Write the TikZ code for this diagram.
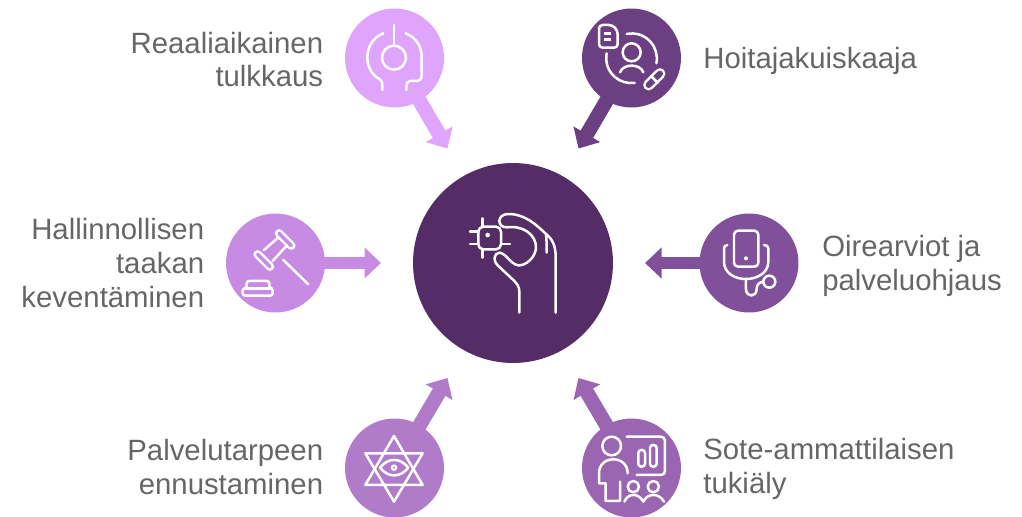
\documentclass[tikz,border=0pt]{standalone}
\usepackage{fontspec}
\setmainfont{Liberation Sans}
\usetikzlibrary{arrows.meta}

\definecolor{hubcol}{HTML}{542C66}
\definecolor{tlcol}{HTML}{DFA5FD}
\definecolor{trcol}{HTML}{6C3F82}
\definecolor{lcol}{HTML}{C88BE3}
\definecolor{rcol}{HTML}{80519A}
\definecolor{blcol}{HTML}{B07BC9}
\definecolor{brcol}{HTML}{9A66B2}
\definecolor{txtcol}{HTML}{666666}

\begin{document}
\begin{tikzpicture}[x=0.02cm,y=-0.02cm]
	\tikzstyle{hub} = [circle, inner sep=0, minimum size=4cm]
	\tikzstyle{topic} = [circle, inner sep=0, minimum size=1.98cm]
	\tikzstyle{big_arrow} = [line width=0.26cm, -{Triangle[length=0.33cm,width=0.6cm]}, shorten <=-0.04cm]
	\tikzstyle{diag_arrow} = [big_arrow, line width=0.29cm]
	\tikzstyle{lab_l} = [align=right, anchor=east, inner sep=0, text=txtcol, font=\fontsize{16.7}{19.3}\selectfont]
	\tikzstyle{lab_r} = [align=left, anchor=west, inner sep=0, text=txtcol, font=\fontsize{16.7}{19.3}\selectfont]
	\tikzstyle{icon} = [x=0.02cm/3, y=-0.02cm/3, white, line width=0.05cm, line cap=round, line join=round]
	\useasboundingbox (0,0) rectangle (1022,517);

	% Circles
	\node[hub, fill=hubcol] (hub) at (513,263) {};
	\node[topic, fill=tlcol] (tulkkaus) at (394.5,58) {};
	\node[topic, fill=trcol] (hoitaja) at (631.5,58) {};
	\node[topic, fill=lcol] (taakka) at (275.5,263) {};
	\node[topic, fill=rcol] (oire) at (749,263) {};
	\node[topic, fill=blcol] (ennuste) at (394.5,468) {};
	\node[topic, fill=brcol] (tukialy) at (631.5,468) {};

	% Arrow ends
	\coordinate (tulkkaus_end) at (447.5,148.5);
	\coordinate (hoitaja_end) at (578.5,148.5);
	\coordinate (taakka_end) at (381,263);
	\coordinate (oire_end) at (645,263);
	\coordinate (ennuste_end) at (447.5,378);
	\coordinate (tukialy_end) at (578.5,378);

	% Draw arrows
	\draw [diag_arrow, tlcol] (tulkkaus) -- (tulkkaus_end);
	\draw [diag_arrow, trcol] (hoitaja) -- (hoitaja_end);
	\draw [big_arrow, lcol] (taakka) -- (taakka_end);
	\draw [big_arrow, rcol] (oire) -- (oire_end);
	\draw [diag_arrow, blcol] (ennuste) -- (ennuste_end);
	\draw [diag_arrow, brcol] (tukialy) -- (tukialy_end);

	% Labels
	\node[lab_l] (tulkkaus_lab) at (323.5,59.5) {Reaaliaikainen\\tulkkaus};
	\node[lab_r] (hoitaja_lab) at (703,61) {Hoitajakuiskaaja};
	\node[lab_l] (taakka_lab) at (204.5,263) {Hallinnollisen\\taakan\\keventäminen};
	\node[lab_r] (oire_lab) at (822,265.5) {Oirearviot ja\\palveluohjaus};
	\node[lab_l] (ennuste_lab) at (323.5,467) {Palvelutarpeen\\ennustaminen};
	\node[lab_r] (tukialy_lab) at (703,469) {Sote-ammattilaisen\\tukiäly};

	% Hub icon
	\begin{scope}[shift={(440,190)}, icon]
		\draw[rounded corners=0.1cm] (115,110) rectangle (183,178);
		\fill (143,135) circle (7);
		\draw (128,85) -- (128,110) (90,125) -- (115,125) (90,162) -- (115,162) (128,178) -- (128,203) (183,162) -- (210,162);
		\draw (347,368) -- (347,200) .. controls (347,165) and (335,145) .. (318,132) .. controls (290,105) and (255,72) .. (205,72) .. controls (170,72) and (170,112) .. (200,112) .. controls (250,105) and (290,135) .. (288,175) .. controls (285,205) and (255,228) .. (235,226) .. controls (210,222) and (200,190) .. (178,188) .. controls (160,190) and (160,215) .. (172,225) -- (220,270) .. controls (232,282) and (238,290) .. (238,305) -- (238,368);
		\draw (320,188) .. controls (320,165) and (320,150) .. (318,132);
	\end{scope}

	% Top left icon
	\begin{scope}[shift={(340,0)}, icon]
		\draw (162,75) -- (162,138);
		\draw (162,173) circle (36);
		\draw (130,100) .. controls (100,112) and (82,140) .. (82,172) .. controls (82,205) and (100,228) .. (120,238) .. controls (126,241) and (127,245) .. (127,270);
		\draw (197,100) .. controls (228,112) and (245,140) .. (245,170) -- (245,225) .. controls (245,240) and (238,243) .. (225,243) -- (210,243) .. controls (202,243) and (199,248) .. (199,270);
	\end{scope}

	% Top right icon
	\begin{scope}[shift={(565,0)}, icon]
		\draw[rounded corners=0.07cm] (102,75) -- (142,75) -- (158,92) -- (158,143) -- (102,143) -- cycle;
		\draw[line width=0.07cm, line cap=butt] (118,100) -- (138,100) (118,118) -- (138,118);
		\draw (200,157) circle (27);
		\draw (165,217) .. controls (175,190) and (225,190) .. (235,217);
		\draw (185,102) arc[radius=0.5cm, start angle=102, end angle=-11];
		\draw (125,160) arc[radius=0.5cm, start angle=169, end angle=278];
		\draw[line width=0.22cm] (251,255) -- (285,221);
		\draw[trcol, line width=0.12cm] (251,255) -- (285,221);
		\draw (258,228) -- (278,248);
	\end{scope}

	% Left icon
	\begin{scope}[shift={(220,205)}, icon]
		\draw (190,165) -- (265,238);
		\draw (132,135) -- (178,95) (158,168) -- (200,122);
		\draw[line width=0.17cm] (113,148) -- (150,185) (177,85) -- (214,122);
		\draw[lcol, line width=0.07cm] (113,148) -- (150,185) (177,85) -- (214,122);
		\draw[rounded corners=0.05cm] (68,272) -- (68,250) -- (80,250) -- (80,228) -- (148,228) -- (148,250) -- (158,250) -- (158,272) -- cycle;
		\draw (80,250) -- (148,250);
	\end{scope}

	% Right icon
	\begin{scope}[shift={(640,205)}, icon]
		\draw[rounded corners=0.08cm] (282,77) rectangle (355,185);
		\fill (318,160) circle (6);
		\draw (262,120) .. controls (255,120) and (252,125) .. (252,135) -- (252,170) .. controls (252,205) and (285,222) .. (318,222) .. controls (350,222) and (385,205) .. (385,170) -- (385,130) .. controls (385,124) and (380,120) .. (372,120);
		\draw (318,222) -- (318,252) .. controls (318,278) and (350,278) .. (350,252) .. controls (350,238) and (358,232) .. (370,230);
		\draw (388,230) circle (18);
	\end{scope}

	% Bottom left icon
	\begin{scope}[shift={(340,370)}, icon]
		\draw (162,198) -- (248,345) -- (76,345) -- cycle;
		\draw (162,395) -- (76,250) -- (248,250) -- cycle;
		\draw (120,293) .. controls (145,262) and (180,262) .. (205,293) .. controls (180,324) and (145,324) .. (120,293) -- cycle;
		\fill (162,293) circle (10);
		\fill[blcol] (162,293) circle (3);
	\end{scope}

	% Bottom right icon
	\begin{scope}[shift={(565,370)}, icon]
		\draw (140,228) circle (28);
		\draw (188,310) .. controls (188,285) and (170,268) .. (145,268) .. controls (120,268) and (102,285) .. (102,310) -- (102,340) -- (122,340) -- (122,393) -- (165,393) -- (165,335);
		\draw[rounded corners=0.08cm] (185,200) -- (300,200) -- (300,315) -- (215,315);
		\draw[rounded corners=0.06cm] (220,240) rectangle (240,290) (255,225) rectangle (275,290);
		\draw (205,350) circle (17) (265,350) circle (17);
		\draw (178,395) .. controls (190,368) and (220,368) .. (235,395) .. controls (248,368) and (282,368) .. (297,395);
	\end{scope}
\end{tikzpicture}
\end{document}
